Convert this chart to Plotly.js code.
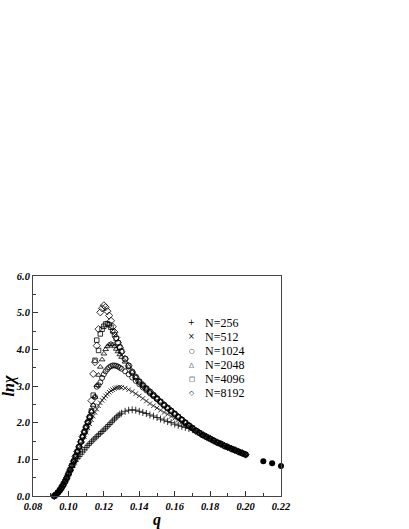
<!DOCTYPE html>
<html>
<head>
<meta charset="utf-8">
<script src="https://cdn.plot.ly/plotly-3.0.1.min.js"></script>
<style>html,body{margin:0;padding:0;background:#fff;}#chart{width:409px;height:529px;}</style>
</head>
<body>
<div id="chart"></div>
<script>
// q grids
const qFine = [0.092,0.093,0.094,0.095,0.096,0.097,0.098,0.099,0.100,0.101,0.102,0.103,0.104,0.105,0.106,0.107,0.108,0.109,0.110,
  0.111,0.112,0.113,0.114,0.115,0.116,0.117,0.118,0.119,0.120,0.121,0.122,0.123,0.124,0.125,0.126,0.127,0.128,0.129,0.130];
const qCoarse = [0.132,0.134,0.136,0.138,0.140,0.142,0.144,0.146,0.148,0.150,0.152,0.154,0.156,0.158,0.160,0.162,0.164,0.166,0.168,0.170,
  0.172,0.174,0.176,0.178,0.180,0.182,0.184,0.186,0.188,0.190,0.192,0.194,0.196,0.198,0.200];

// ln(chi) values
const y256 = [0.00,0.04,0.09,0.15,0.22,0.30,0.39,0.49,0.59,0.69,0.78,0.87,0.95,1.02,1.08,1.14,1.20,1.26,1.32,
  1.38,1.43,1.48,1.53,1.58,1.62,1.67,1.71,1.76,1.80,1.85,1.90,1.95,2.00,2.05,2.10,2.15,2.19,2.23,2.26,
  2.31,2.34,2.35,2.34,2.31,2.28,2.25,2.21,2.18,2.14,2.10,2.07,2.03,2.00,1.96,1.93,1.90,1.87,1.84,1.81,
  1.77,1.72,1.67,1.62,1.57,1.51,1.46,1.42,1.37,1.33,1.29,1.25,1.21,1.17,1.13];
const y512 = [0.00,0.04,0.09,0.15,0.22,0.30,0.39,0.49,0.60,0.71,0.83,0.94,1.05,1.16,1.27,1.38,1.50,1.62,1.74,
  1.86,1.97,2.08,2.18,2.28,2.37,2.46,2.54,2.61,2.67,2.73,2.78,2.83,2.87,2.90,2.93,2.95,2.96,2.97,2.96,
  2.94,2.90,2.85,2.79,2.73,2.66,2.59,2.52,2.46,2.40,2.34,2.28,2.23,2.17,2.12,2.07,2.02,1.97,1.92,1.86,
  1.78,1.72,1.66,1.61,1.56,1.51,1.46,1.42,1.37,1.33,1.29,1.25,1.21,1.17,1.13];
const y1024 = [0.00,0.04,0.09,0.15,0.22,0.30,0.39,0.49,0.60,0.71,0.83,0.95,1.08,1.21,1.34,1.48,1.62,1.75,1.88,
  2.01,2.15,2.30,2.46,2.70,2.98,3.02,3.10,3.22,3.32,3.40,3.46,3.51,3.54,3.56,3.56,3.55,3.53,3.50,3.47,
  3.40,3.32,3.23,3.14,3.05,2.96,2.88,2.80,2.72,2.64,2.56,2.48,2.40,2.32,2.24,2.16,2.08,2.00,1.92,1.85,
  1.78,1.72,1.66,1.61,1.56,1.51,1.46,1.42,1.37,1.33,1.29,1.25,1.21,1.17,1.13];
const y2048 = [0.00,0.04,0.09,0.15,0.22,0.30,0.39,0.49,0.60,0.71,0.83,0.95,1.08,1.21,1.34,1.48,1.62,1.75,1.88,
  2.01,2.15,2.30,2.48,2.70,3.02,3.30,3.52,3.72,3.88,4.00,4.08,4.13,4.15,4.13,4.08,4.01,3.94,3.86,3.79,
  3.66,3.52,3.38,3.24,3.12,3.02,2.93,2.84,2.75,2.66,2.57,2.48,2.40,2.32,2.24,2.16,2.08,2.00,1.92,1.85,
  1.78,1.72,1.66,1.61,1.56,1.51,1.46,1.42,1.37,1.33,1.29,1.25,1.21,1.17,1.13];
const y4096 = [0.00,0.04,0.09,0.15,0.22,0.30,0.39,0.49,0.60,0.71,0.83,0.95,1.08,1.21,1.34,1.48,1.62,1.75,1.88,
  2.01,2.15,2.32,2.75,3.70,4.25,3.97,4.42,4.55,4.63,4.69,4.70,4.67,4.60,4.50,4.40,4.29,4.18,4.06,3.95,
  3.74,3.55,3.38,3.24,3.12,3.02,2.93,2.84,2.75,2.66,2.57,2.48,2.40,2.32,2.24,2.16,2.08,2.00,1.92,1.85,
  1.78,1.72,1.66,1.61,1.56,1.51,1.46,1.42,1.37,1.33,1.29,1.25,1.21,1.17,1.13];
const y8192 = [0.00,0.04,0.09,0.15,0.22,0.30,0.39,0.49,0.60,0.71,0.83,0.95,1.08,1.21,1.34,1.48,1.62,1.75,1.88,
  2.02,2.16,2.60,3.33,3.65,4.10,4.55,5.01,5.12,5.20,5.15,5.04,4.92,4.78,4.62,4.47,4.32,4.18,4.05,3.93,
  3.74,3.55,3.38,3.24,3.12,3.02,2.93,2.84,2.75,2.66,2.57,2.48,2.40,2.32,2.24,2.16,2.08,2.00,1.92,1.85,
  1.78,1.72,1.66,1.61,1.56,1.51,1.46,1.42,1.37,1.33,1.29,1.25,1.21,1.17,1.13];
const qExtra = [0.210, 0.215, 0.220];
const yExtra = [0.95, 0.89, 0.82];

const seriesNames = ['N=256','N=512','N=1024','N=2048','N=4096','N=8192'];
const seriesY = [y256, y512, y1024, y2048, y4096, y8192];
const symbols = ['cross-thin-open','x-thin-open','circle-open','triangle-up-open','square-open','diamond-open'];
const sizes = [5, 4.5, 5, 5, 4.5, 5.5];
const legendGlyphs = ['+','×','○','△','□','◇'];

const qAll = qFine.concat(qCoarse);
const traces = seriesY.map((ys, i) => ({
  type: 'scatter', mode: 'markers', name: seriesNames[i],
  x: qAll, y: ys, cliponaxis: false,
  marker: {symbol: symbols[i], size: sizes[i], color: '#000', line: {color: '#000', width: 0.8}}
}));
traces.push({type: 'scatter', mode: 'markers', name: 'extra', x: qExtra, y: yExtra, cliponaxis: false,
  marker: {symbol: 'circle', size: 6, color: '#000'}});

const serif = 'Liberation Serif';
const tickFont = {family: serif, size: 10.5, weight: 'bold', style: 'italic', color: '#000'};
const annotations = [];
seriesNames.forEach((nm, i) => {
  const yy = 0.787 - i * 0.0637;
  annotations.push({xref: 'paper', yref: 'paper', x: 0.641, y: yy, xanchor: 'center', yanchor: 'middle',
    text: legendGlyphs[i], showarrow: false, font: {family: 'DejaVu Sans', size: i < 2 ? 8 : 6.5, color: '#000'}});
  annotations.push({xref: 'paper', yref: 'paper', x: 0.685, y: yy, xanchor: 'left', yanchor: 'middle',
    text: nm, showarrow: false, font: {family: serif, size: 12, color: '#000'}});
});

const layout = {
  width: 409, height: 529,
  margin: {l: 33, r: 128, t: 276, b: 33.3},
  paper_bgcolor: '#fff', plot_bgcolor: '#fff',
  showlegend: false,
  xaxis: {
    range: [0.08, 0.22], dtick: 0.02, tick0: 0.08, tickformat: '.2f',
    ticks: 'inside', ticklen: 5, tickcolor: '#333', tickfont: tickFont,
    minor: {dtick: 0.01, ticks: 'inside', ticklen: 3, tickcolor: '#333'},
    showline: true, linecolor: '#444', linewidth: 1, mirror: true,
    showgrid: false, zeroline: false,
    title: {text: 'q', font: {family: serif, size: 16, weight: 'bold', style: 'italic', color: '#000'}}
  },
  yaxis: {
    range: [0, 6], dtick: 1, tick0: 0, tickformat: '.1f',
    ticks: 'inside', ticklen: 5, tickcolor: '#333', tickfont: tickFont,
    minor: {dtick: 0.5, ticks: 'inside', ticklen: 3, tickcolor: '#333'},
    showline: true, linecolor: '#444', linewidth: 1, mirror: true,
    showgrid: false, zeroline: false,
    title: {text: 'lnχ', font: {family: serif, size: 16, weight: 'bold', style: 'italic', color: '#000'}}
  },
  annotations: annotations
};

Plotly.newPlot('chart', traces, layout, {staticPlot: true, displayModeBar: false});
</script>
</body>
</html>
